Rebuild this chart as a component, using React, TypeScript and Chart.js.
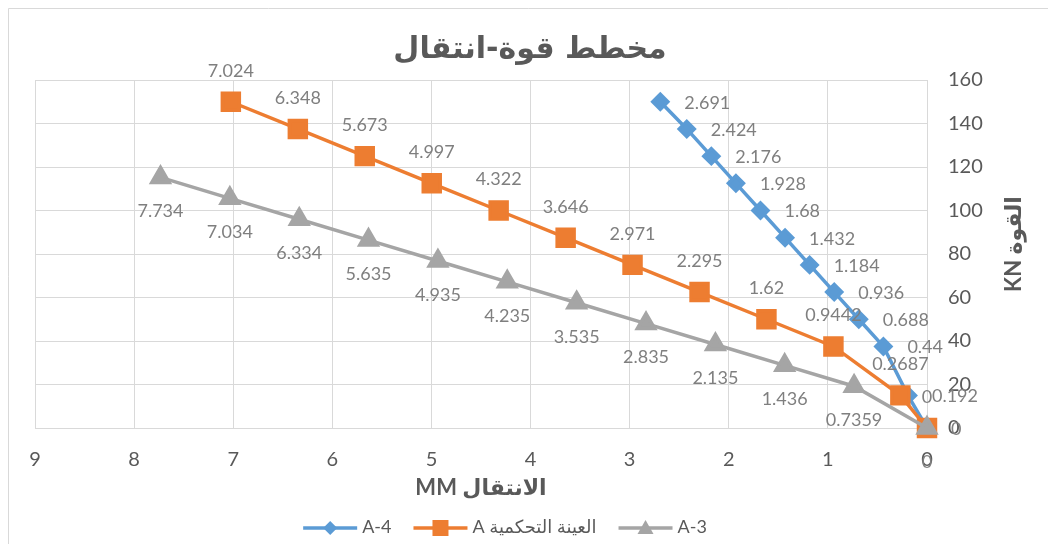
import React, { useEffect, useRef } from 'react';
import { Chart, registerables } from 'chart.js';

Chart.register(...registerables);

// ---- Data ----
const chartTitle = 'مخطط قوة-انتقال';
const xAxisTitle = 'الانتقال MM';
const yAxisTitle = 'القوة KN';
const seriesNames = ['A-4', 'العينة التحكمية A', 'A-3'];
const seriesColors = ['#5b9bd5', '#ed7d31', '#a5a5a5'];

const a4Disp = [2.691, 2.424, 2.176, 1.928, 1.68, 1.432, 1.184, 0.936, 0.688, 0.44, 0.192, 0];
const a4Force = [150, 137.5, 125, 112.5, 100, 87.5, 75, 62.5, 50, 37.5, 15, 0];
const ctrlDisp = [7.024, 6.348, 5.673, 4.997, 4.322, 3.646, 2.971, 2.295, 1.62, 0.9442, 0.2687, 0];
const ctrlForce = [150, 137.5, 125, 112.5, 100, 87.5, 75, 62.5, 50, 37.5, 15, 0];
const a3Disp = [7.734, 7.034, 6.334, 5.635, 4.935, 4.235, 3.535, 2.835, 2.135, 1.436, 0.7359, 0];
const a3Force = [115.2, 105.6, 96, 86.4, 76.8, 67.2, 57.6, 48, 38.4, 28.8, 19.2, 0];

const xMin = 0;
const xMax = 9;
const xStep = 1;
const yMin = 0;
const yMax = 160;
const yStep = 20;

const TEXT = '#595959';
const LABEL = '#7f7f7f';
const GRID = '#d9d9d9';
const LATIN = 'Lato, "DejaVu Sans", sans-serif';
const ARABIC = '"DejaVu Sans", sans-serif';

const toPoints = (xs: number[], ys: number[]) => xs.map((x, i) => ({ x, y: ys[i] }));

const hasArabic = (s: string) => /[\u0600-\u06FF]/.test(s);

function drawMarker(ctx: CanvasRenderingContext2D, kind: string, x: number, y: number, color: string) {
  ctx.save();
  ctx.fillStyle = color;
  ctx.beginPath();
  if (kind === 'diamond') {
    const r = 7;
    ctx.moveTo(x, y - r);
    ctx.lineTo(x + r, y);
    ctx.lineTo(x, y + r);
    ctx.lineTo(x - r, y);
    ctx.closePath();
  } else if (kind === 'square') {
    ctx.rect(x - 8, y - 8, 16, 16);
  } else {
    const s = 16;
    const h = s * 0.866;
    ctx.moveTo(x, y - h / 2 - 1);
    ctx.lineTo(x + s / 2, y + h / 2 - 1);
    ctx.lineTo(x - s / 2, y + h / 2 - 1);
    ctx.closePath();
  }
  ctx.fill();
  ctx.restore();
}

const labelPlacement = ['right', 'above', 'below'];
const markerKinds = ['diamond', 'square', 'triangle'];

const dataLabelPlugin = {
  id: 'dataLabelPlugin',
  afterDatasetsDraw(chart: any) {
    const ctx = chart.ctx as CanvasRenderingContext2D;
    ctx.save();
    ctx.font = `18px ${LATIN}`;
    ctx.fillStyle = LABEL;
    chart.data.datasets.forEach((ds: any, i: number) => {
      const meta = chart.getDatasetMeta(i);
      const place = labelPlacement[i];
      meta.data.forEach((el: any, j: number) => {
        const text = String(ds.data[j].x);
        if (place === 'right') {
          ctx.textAlign = 'left';
          ctx.textBaseline = 'middle';
          ctx.fillText(text, el.x + 24, el.y + 1);
        } else if (place === 'above') {
          ctx.textAlign = 'center';
          ctx.textBaseline = 'middle';
          ctx.fillText(text, el.x, el.y - 31);
        } else {
          ctx.textAlign = 'center';
          ctx.textBaseline = 'middle';
          ctx.fillText(text, el.x, el.y + 34);
        }
      });
    });
    ctx.restore();
  },
};

const decorPlugin = {
  id: 'decorPlugin',
  beforeDraw(chart: any) {
    const ctx = chart.ctx as CanvasRenderingContext2D;
    ctx.save();
    ctx.fillStyle = '#ffffff';
    ctx.fillRect(0, 0, chart.width, chart.height);
    ctx.strokeStyle = GRID;
    ctx.lineWidth = 1;
    ctx.beginPath();
    ctx.moveTo(8.5, chart.height);
    ctx.lineTo(8.5, 8.5);
    ctx.lineTo(chart.width, 8.5);
    ctx.stroke();
    ctx.restore();
  },
  afterDraw(chart: any) {
    const ctx = chart.ctx as CanvasRenderingContext2D;
    const area = chart.chartArea;
    ctx.save();
    // title
    ctx.direction = 'rtl';
    ctx.fillStyle = TEXT;
    ctx.textAlign = 'center';
    ctx.textBaseline = 'middle';
    ctx.font = `bold 30px ${ARABIC}`;
    ctx.fillText(chartTitle, 530, 50);
    // x axis title
    ctx.font = `bold 22px ${LATIN}`;
    ctx.fillText(xAxisTitle, (area.left + area.right) / 2, 488);
    // y axis title
    ctx.save();
    ctx.translate(1014, 244);
    ctx.rotate(-Math.PI / 2);
    ctx.fillText(yAxisTitle, 0, 0);
    ctx.restore();

    // legend
    ctx.font = `18px ${LATIN}`;
    const iconW = 54;
    const gapIT = 5;
    const gapItems = 22;
    const widths = seriesNames.map((n) => {
      ctx.direction = hasArabic(n) ? 'rtl' : 'ltr';
      return ctx.measureText(n).width;
    });
    const total = widths.reduce((a, w) => a + iconW + gapIT + w, 0) + gapItems * (seriesNames.length - 1);
    let x = 505 - total / 2;
    const ly = 528;
    seriesNames.forEach((n, i) => {
      ctx.strokeStyle = seriesColors[i];
      ctx.lineWidth = 3.5;
      ctx.beginPath();
      ctx.moveTo(x, ly);
      ctx.lineTo(x + iconW, ly);
      ctx.stroke();
      drawMarker(ctx, markerKinds[i], x + iconW / 2, ly, seriesColors[i]);
      x += iconW + gapIT;
      ctx.direction = hasArabic(n) ? 'rtl' : 'ltr';
      ctx.textAlign = 'left';
      ctx.textBaseline = 'middle';
      ctx.fillStyle = TEXT;
      ctx.fillText(n, x, ly - 1);
      x += widths[i] + gapItems;
    });
    ctx.restore();
  },
};

export default function App() {
  const canvasRef = useRef<HTMLCanvasElement | null>(null);

  useEffect(() => {
    const canvas = canvasRef.current;
    if (!canvas) return;
    const common = { showLine: true, borderWidth: 3.5, clip: false as any };
    const chart = new Chart(canvas, {
      type: 'scatter',
      data: {
        datasets: [
          {
            ...common,
            label: seriesNames[0],
            data: toPoints(a4Disp, a4Force),
            borderColor: seriesColors[0],
            backgroundColor: seriesColors[0],
            pointStyle: 'rectRot',
            pointRadius: 7.5,
            pointBackgroundColor: seriesColors[0],
            pointBorderColor: seriesColors[0],
            order: 2,
          },
          {
            ...common,
            label: seriesNames[1],
            data: toPoints(ctrlDisp, ctrlForce),
            borderColor: seriesColors[1],
            backgroundColor: seriesColors[1],
            pointStyle: 'rect',
            pointRadius: 12,
            pointBackgroundColor: seriesColors[1],
            pointBorderColor: seriesColors[1],
            order: 1,
          },
          {
            ...common,
            label: seriesNames[2],
            data: toPoints(a3Disp, a3Force),
            borderColor: seriesColors[2],
            backgroundColor: seriesColors[2],
            pointStyle: 'triangle',
            pointRadius: 10,
            pointBackgroundColor: seriesColors[2],
            pointBorderColor: seriesColors[2],
            order: 0,
          },
        ],
      },
      options: {
        animation: false,
        responsive: false,
        maintainAspectRatio: false,
        layout: { padding: { top: 80, left: 35, right: 0, bottom: 0 } },
        plugins: {
          legend: { display: false },
          title: { display: false },
          tooltip: { enabled: false },
        },
        scales: {
          x: {
            type: 'linear',
            reverse: true,
            min: xMin,
            max: xMax,
            ticks: { stepSize: xStep, color: TEXT, font: { family: LATIN, size: 20 }, padding: 20 },
            grid: { color: GRID, drawTicks: false, lineWidth: 1 },
            border: { color: GRID },
            afterFit: (s: any) => {
              s.height = 116;
            },
          },
          y: {
            type: 'linear',
            position: 'right',
            min: yMin,
            max: yMax,
            ticks: { stepSize: yStep, color: TEXT, font: { family: LATIN, size: 20 }, padding: 21 },
            grid: { color: GRID, drawTicks: false, lineWidth: 1 },
            border: { display: false },
            afterFit: (s: any) => {
              s.width = 121;
            },
          },
        },
      } as any,
      plugins: [decorPlugin, dataLabelPlugin],
    });
    return () => chart.destroy();
  }, []);

  return (
    <div style={{ position: 'absolute', left: 0, top: 0, width: 1048, height: 544 }}>
      <canvas ref={canvasRef} width={1048} height={544} style={{ display: 'block' }} />
    </div>
  );
}
